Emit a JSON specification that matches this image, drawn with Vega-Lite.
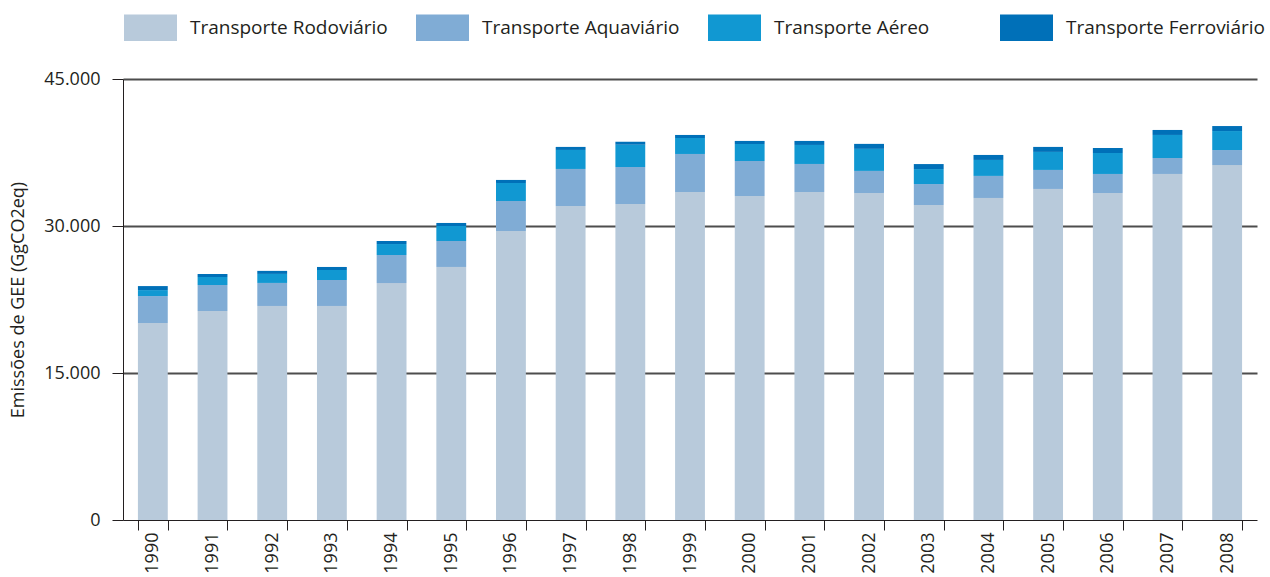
{
  "$schema": "https://vega.github.io/schema/vega-lite/v6.json",
  "autosize": "none",
  "width": 1134,
  "height": 441,
  "padding": {"left": 123, "top": 79, "right": 13, "bottom": 57},
  "background": "white",
  "config": {
    "view": {"stroke": null},
    "font": "Open Sans",
    "axis": {"labelFont": "Open Sans", "titleFont": "Open Sans", "labelColor": "#231f20", "titleColor": "#231f20"},
    "legend": {"labelFont": "Open Sans"}
  },
  "data": {
    "values": [
      {"ano": "1990", "modo": "Transporte Rodoviário", "valor": 20100},
      {"ano": "1990", "modo": "Transporte Aquaviário", "valor": 2750},
      {"ano": "1990", "modo": "Transporte Aéreo", "valor": 610},
      {"ano": "1990", "modo": "Transporte Ferroviário", "valor": 410},
      {"ano": "1991", "modo": "Transporte Rodoviário", "valor": 21330},
      {"ano": "1991", "modo": "Transporte Aquaviário", "valor": 2650},
      {"ano": "1991", "modo": "Transporte Aéreo", "valor": 820},
      {"ano": "1991", "modo": "Transporte Ferroviário", "valor": 310},
      {"ano": "1992", "modo": "Transporte Rodoviário", "valor": 21840},
      {"ano": "1992", "modo": "Transporte Aquaviário", "valor": 2350},
      {"ano": "1992", "modo": "Transporte Aéreo", "valor": 920},
      {"ano": "1992", "modo": "Transporte Ferroviário", "valor": 310},
      {"ano": "1993", "modo": "Transporte Rodoviário", "valor": 21840},
      {"ano": "1993", "modo": "Transporte Aquaviário", "valor": 2650},
      {"ano": "1993", "modo": "Transporte Aéreo", "valor": 1020},
      {"ano": "1993", "modo": "Transporte Ferroviário", "valor": 310},
      {"ano": "1994", "modo": "Transporte Rodoviário", "valor": 24180},
      {"ano": "1994", "modo": "Transporte Aquaviário", "valor": 2860},
      {"ano": "1994", "modo": "Transporte Aéreo", "valor": 1120},
      {"ano": "1994", "modo": "Transporte Ferroviário", "valor": 310},
      {"ano": "1995", "modo": "Transporte Rodoviário", "valor": 25820},
      {"ano": "1995", "modo": "Transporte Aquaviário", "valor": 2650},
      {"ano": "1995", "modo": "Transporte Aéreo", "valor": 1530},
      {"ano": "1995", "modo": "Transporte Ferroviário", "valor": 310},
      {"ano": "1996", "modo": "Transporte Rodoviário", "valor": 29490},
      {"ano": "1996", "modo": "Transporte Aquaviário", "valor": 3060},
      {"ano": "1996", "modo": "Transporte Aéreo", "valor": 1840},
      {"ano": "1996", "modo": "Transporte Ferroviário", "valor": 310},
      {"ano": "1997", "modo": "Transporte Rodoviário", "valor": 32040},
      {"ano": "1997", "modo": "Transporte Aquaviário", "valor": 3780},
      {"ano": "1997", "modo": "Transporte Aéreo", "valor": 1940},
      {"ano": "1997", "modo": "Transporte Ferroviário", "valor": 310},
      {"ano": "1998", "modo": "Transporte Rodoviário", "valor": 32250},
      {"ano": "1998", "modo": "Transporte Aquaviário", "valor": 3780},
      {"ano": "1998", "modo": "Transporte Aéreo", "valor": 2250},
      {"ano": "1998", "modo": "Transporte Ferroviário", "valor": 310},
      {"ano": "1999", "modo": "Transporte Rodoviário", "valor": 33470},
      {"ano": "1999", "modo": "Transporte Aquaviário", "valor": 3880},
      {"ano": "1999", "modo": "Transporte Aéreo", "valor": 1630},
      {"ano": "1999", "modo": "Transporte Ferroviário", "valor": 310},
      {"ano": "2000", "modo": "Transporte Rodoviário", "valor": 33060},
      {"ano": "2000", "modo": "Transporte Aquaviário", "valor": 3570},
      {"ano": "2000", "modo": "Transporte Aéreo", "valor": 1740},
      {"ano": "2000", "modo": "Transporte Ferroviário", "valor": 310},
      {"ano": "2001", "modo": "Transporte Rodoviário", "valor": 33470},
      {"ano": "2001", "modo": "Transporte Aquaviário", "valor": 2860},
      {"ano": "2001", "modo": "Transporte Aéreo", "valor": 1940},
      {"ano": "2001", "modo": "Transporte Ferroviário", "valor": 410},
      {"ano": "2002", "modo": "Transporte Rodoviário", "valor": 33370},
      {"ano": "2002", "modo": "Transporte Aquaviário", "valor": 2250},
      {"ano": "2002", "modo": "Transporte Aéreo", "valor": 2250},
      {"ano": "2002", "modo": "Transporte Ferroviário", "valor": 510},
      {"ano": "2003", "modo": "Transporte Rodoviário", "valor": 32140},
      {"ano": "2003", "modo": "Transporte Aquaviário", "valor": 2140},
      {"ano": "2003", "modo": "Transporte Aéreo", "valor": 1530},
      {"ano": "2003", "modo": "Transporte Ferroviário", "valor": 510},
      {"ano": "2004", "modo": "Transporte Rodoviário", "valor": 32860},
      {"ano": "2004", "modo": "Transporte Aquaviário", "valor": 2250},
      {"ano": "2004", "modo": "Transporte Aéreo", "valor": 1630},
      {"ano": "2004", "modo": "Transporte Ferroviário", "valor": 510},
      {"ano": "2005", "modo": "Transporte Rodoviário", "valor": 33780},
      {"ano": "2005", "modo": "Transporte Aquaviário", "valor": 1940},
      {"ano": "2005", "modo": "Transporte Aéreo", "valor": 1840},
      {"ano": "2005", "modo": "Transporte Ferroviário", "valor": 510},
      {"ano": "2006", "modo": "Transporte Rodoviário", "valor": 33370},
      {"ano": "2006", "modo": "Transporte Aquaviário", "valor": 1940},
      {"ano": "2006", "modo": "Transporte Aéreo", "valor": 2140},
      {"ano": "2006", "modo": "Transporte Ferroviário", "valor": 510},
      {"ano": "2007", "modo": "Transporte Rodoviário", "valor": 35310},
      {"ano": "2007", "modo": "Transporte Aquaviário", "valor": 1630},
      {"ano": "2007", "modo": "Transporte Aéreo", "valor": 2350},
      {"ano": "2007", "modo": "Transporte Ferroviário", "valor": 510},
      {"ano": "2008", "modo": "Transporte Rodoviário", "valor": 36220},
      {"ano": "2008", "modo": "Transporte Aquaviário", "valor": 1530},
      {"ano": "2008", "modo": "Transporte Aéreo", "valor": 1940},
      {"ano": "2008", "modo": "Transporte Ferroviário", "valor": 510}
    ]
  },
  "mark": {"type": "bar"},
  "encoding": {
    "x": {
      "field": "ano",
      "type": "ordinal",
      "scale": {"paddingInner": 0.5, "paddingOuter": 0.25},
      "axis": {
        "title": null,
        "labelAngle": -90,
        "labelFontSize": 18,
        "labelPadding": 2,
        "tickBand": "extent",
        "tickSize": 10,
        "tickColor": "#231f20",
        "domainColor": "#231f20",
        "domainWidth": 1,
        "tickWidth": 1
      }
    },
    "y": {
      "field": "valor",
      "type": "quantitative",
      "stack": "zero",
      "scale": {"domain": [0, 45000], "nice": false},
      "axis": {
        "title": "Emissões de GEE (GgCO2eq)",
        "titleFontSize": 18,
        "titleFontWeight": "normal",
        "titlePadding": 16,
        "values": [0, 15000, 30000, 45000],
        "labelExpr": "replace(format(datum.value, ',d'), ',', '.')",
        "labelFontSize": 18,
        "labelPadding": 12,
        "tickSize": 11,
        "tickColor": "#231f20",
        "domainColor": "#231f20",
        "grid": true,
        "gridColor": {"condition": {"test": "datum.value === 0", "value": "transparent"}, "value": "#4d4d4d"},
        "gridWidth": 2
      }
    },
    "color": {
      "field": "modo",
      "type": "nominal",
      "sort": ["Transporte Rodoviário", "Transporte Aquaviário", "Transporte Aéreo", "Transporte Ferroviário"],
      "scale": {
        "domain": ["Transporte Rodoviário", "Transporte Aquaviário", "Transporte Aéreo", "Transporte Ferroviário"],
        "range": ["#b8cadb", "#80acd5", "#1198d2", "#0070b8"]
      },
      "legend": {
        "title": null,
        "orient": "none",
        "direction": "horizontal",
        "columns": 4,
        "gridAlign": "all",
        "columnPadding": 27,
        "legendX": 1,
        "legendY": -78,
        "padding": 0,
        "symbolType": "M-1,-0.5H1V0.5H-1Z",
        "symbolSize": 2809,
        "symbolStrokeWidth": 0,
        "symbolOpacity": 1,
        "labelFontSize": 19,
        "labelOffset": 13,
        "labelColor": "#231f20",
        "labelLimit": 300
      }
    },
    "order": {"field": "ordem"}
  }
}
